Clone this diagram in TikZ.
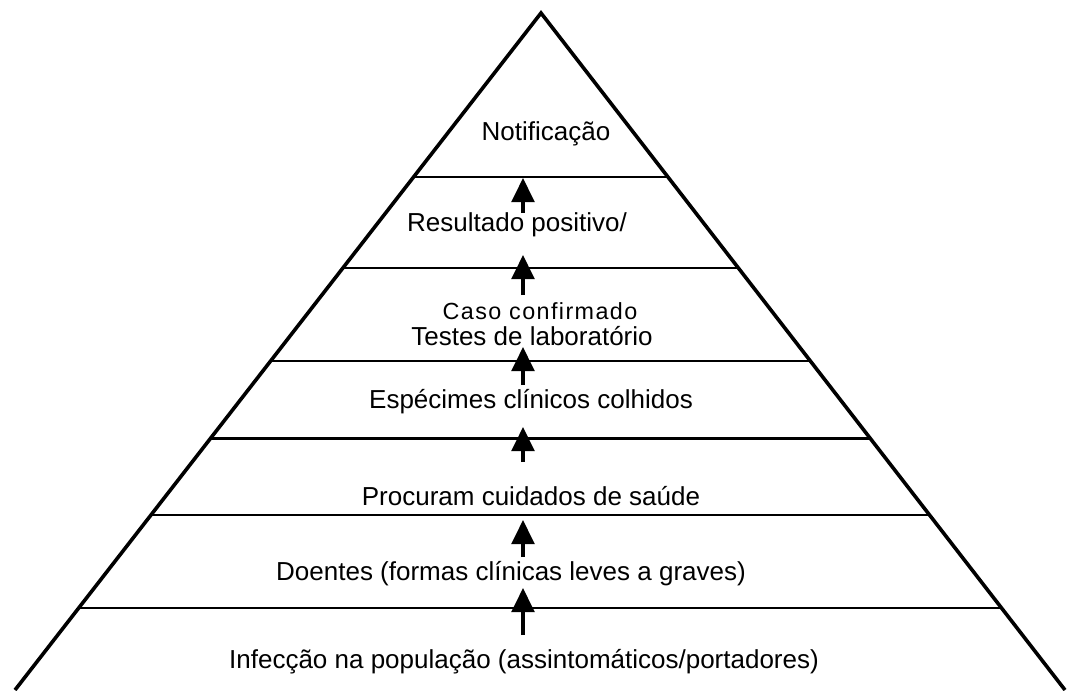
\documentclass[tikz,border=0pt]{standalone}
\usepackage{fontspec}
\setmainfont{Liberation Sans}
\usetikzlibrary{calc,arrows.meta}
\tikzset{
  tierline/.style={line width=2.2pt},
  upflow/.style={line width=2.5pt, -{Triangle[length=18pt,width=17pt]}},
  tiertext/.style={anchor=base, inner sep=0pt, font=\fontsize{19.5}{23}\selectfont}
}
\begin{document}
\begin{tikzpicture}[x=0.75pt, y=-0.75pt]
			\useasboundingbox (0,0) rectangle (1067,690);
			% coordinates
			\coordinate (apex) at (541,13);
			\coordinate (left) at (15,690);
			\coordinate (right) at (1065,690);
			% pyramid sides
			\draw[line width=2.7pt] (left) -- (apex) -- (right);
			% tier lines
			\draw[tierline] ($(apex)!0.2422!(left)$) -- ($(apex)!0.2422!(right)$);
			\draw[tierline] ($(apex)!0.3767!(left)$) -- ($(apex)!0.3767!(right)$);
			\draw[tierline] ($(apex)!0.5140!(left)$) -- ($(apex)!0.5140!(right)$);
			\draw[tierline] ($(apex)!0.6278!(left)$) -- ($(apex)!0.6278!(right)$);
			\draw[tierline] ($(apex)!0.7415!(left)$) -- ($(apex)!0.7415!(right)$);
			\draw[tierline] ($(apex)!0.8789!(left)$) -- ($(apex)!0.8789!(right)$);
			% tier labels
			\node[tiertext] (notif) at (546,140) {Notificação};
			\node[tiertext] (result) at (517,231) {Resultado positivo/};
			\node[tiertext, font=\fontsize{17.5}{20}\selectfont\addfontfeature{LetterSpace=6}] (caso) at (540,319) {Caso confirmado};
			\node[tiertext] (testes) at (532,345) {Testes de laboratório};
			\node[tiertext] (especimes) at (531,408) {Espécimes clínicos colhidos};
			\node[tiertext] (procuram) at (531,505) {Procuram cuidados de saúde};
			\node[tiertext] (doentes) at (511,580) {Doentes (formas clínicas leves a graves)};
			\node[tiertext] (infeccao) at (524,668) {Infecção na população (assintomáticos/portadores)};
			% arrow ends
			\coordinate (tail1) at (523,213); \coordinate (tip1) at (523,178);
			\coordinate (tail2) at (523,295); \coordinate (tip2) at (523,255);
			\coordinate (tail3) at (523,385); \coordinate (tip3) at (523,347);
			\coordinate (tail4) at (523,462); \coordinate (tip4) at (523,427);
			\coordinate (tail5) at (523,557); \coordinate (tip5) at (523,520);
			\coordinate (tail6) at (523,635); \coordinate (tip6) at (523,588);
			% arrows
			\draw[upflow] (tail1) -- (tip1);
			\draw[upflow] (tail2) -- (tip2);
			\draw[upflow] (tail3) -- (tip3);
			\draw[upflow] (tail4) -- (tip4);
			\draw[upflow] (tail5) -- (tip5);
			\draw[upflow] (tail6) -- (tip6);
		\end{tikzpicture}
\end{document}
